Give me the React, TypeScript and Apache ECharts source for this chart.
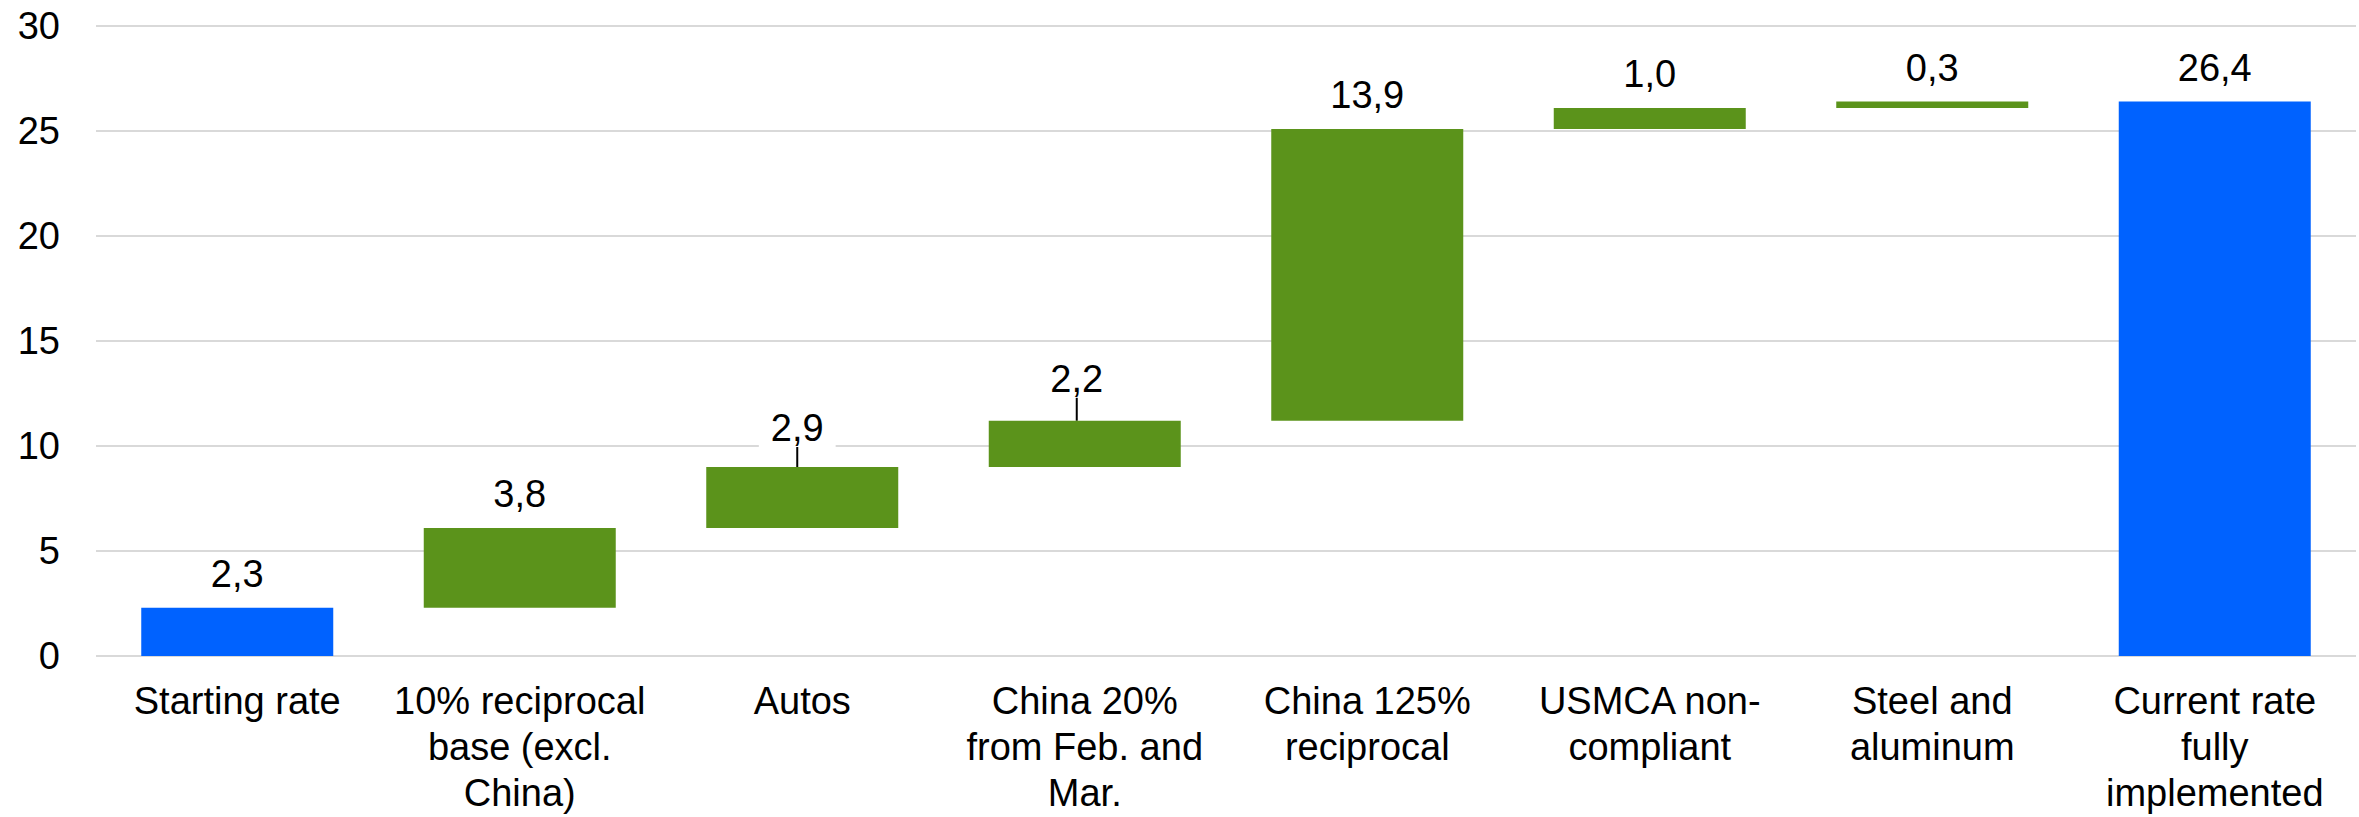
import React, { useEffect, useRef } from "react";
import * as echarts from "echarts";

const categories = [
  "Starting rate",
  "10% reciprocal\nbase (excl.\nChina)",
  "Autos",
  "China 20%\nfrom Feb. and\nMar.",
  "China 125%\nreciprocal",
  "USMCA non-\ncompliant",
  "Steel and\naluminum",
  "Current rate\nfully\nimplemented",
];
// contribution of each step (percentage points)
const values = [2.3, 3.8, 2.9, 2.2, 13.9, 1.0, 0.3, 26.4];
// which bars are totals (start/end)
const isTotal = [true, false, false, false, false, false, false, true];
// labels that are pulled up with a leader line
const leaderIdx = [2, 3];
const yTicks = { min: 0, max: 30, interval: 5 };

const BLUE = "#0062FF";
const GREEN = "#5B931B";
const FONT = "'Liberation Sans', Arial, sans-serif";

function buildBase(): number[] {
  const base: number[] = [];
  let run = 0;
  values.forEach((v, i) => {
    if (isTotal[i]) {
      base.push(0);
      run = v;
    } else {
      base.push(Math.round(run * 10) / 10);
      run += v;
    }
  });
  return base;
}

export default function App() {
  const ref = useRef<HTMLDivElement>(null);
  useEffect(() => {
    document.body.style.margin = "0";
    if (!ref.current) return;
    const chart = echarts.init(ref.current, undefined, { renderer: "svg" });
    const base = buildBase();
    chart.setOption({
      animation: false,
      backgroundColor: "#fff",
      grid: { left: 96, right: 3, top: 26, bottom: 161, containLabel: false },
      xAxis: {
        type: "category",
        data: categories,
        axisLine: { show: false },
        axisTick: { show: false },
        axisLabel: {
          color: "#000",
          fontFamily: FONT,
          fontSize: 38,
          lineHeight: 46,
          margin: 22,
          interval: 0,
        },
      },
      yAxis: {
        type: "value",
        min: yTicks.min,
        max: yTicks.max,
        interval: yTicks.interval,
        axisLine: { show: false },
        axisTick: { show: false },
        splitLine: { lineStyle: { color: "#D9D9D9", width: 2 } },
        axisLabel: {
          color: "#000",
          fontFamily: FONT,
          fontSize: 38,
          margin: 36,
        },
      },
      series: [
        {
          type: "bar",
          stack: "wf",
          silent: true,
          barWidth: 192,
          itemStyle: { color: "transparent" },
          data: base,
        },
        {
          type: "bar",
          stack: "wf",
          barWidth: 192,
          data: values.map((v, i) => ({
            value: v,
            itemStyle: { color: isTotal[i] ? BLUE : GREEN },
            label:
              i === 2
                ? { backgroundColor: "#fff", padding: [0, 12] }
                : undefined,
            labelLine: leaderIdx.includes(i)
              ? { show: true, lineStyle: { color: "#000", width: 2 } }
              : { show: false },
          })),
          label: {
            show: true,
            position: "top",
            distance: 15,
            color: "#000",
            fontFamily: FONT,
            fontSize: 38,
            formatter: (p: any) => Number(p.value).toFixed(1).replace(".", ","),
          },
          labelLine: { show: false },
          labelLayout: (p: any) => {
            if (p.dataIndex === 2) return { dx: -5, dy: -5 };
            if (p.dataIndex === 3) return { dx: -8, dy: -8 };
            return {};
          },
        },
      ],
    });
    return () => chart.dispose();
  }, []);
  return <div ref={ref} style={{ width: 2359, height: 817 }} />;
}
